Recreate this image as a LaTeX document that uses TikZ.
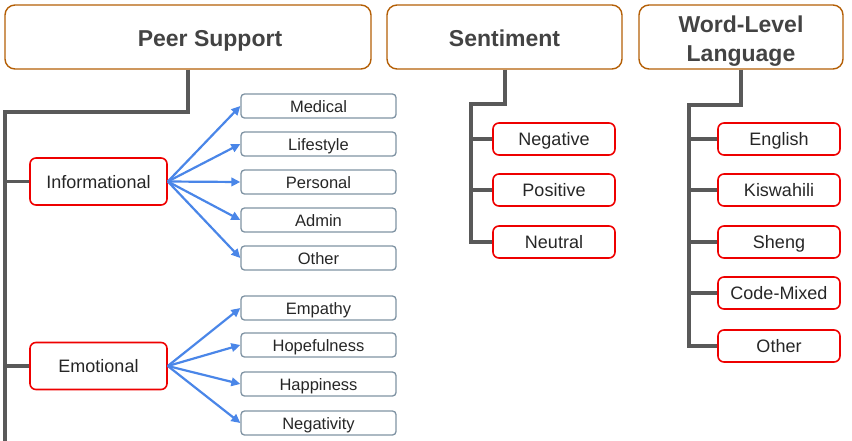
\documentclass[tikz,border=0pt]{standalone}
\usepackage{fontspec}
\setmainfont{Liberation Sans}
\usetikzlibrary{arrows.meta}
\definecolor{headbrown}{HTML}{B45F06}
\definecolor{headtext}{HTML}{434343}
\definecolor{stemgray}{HTML}{595959}
\definecolor{subgray}{HTML}{7F93A3}
\definecolor{arrowblue}{HTML}{4A86E8}
\definecolor{boxred}{HTML}{EE0000}
\tikzset{
  head/.style={draw=headbrown, line width=1.4pt, rounded corners=10pt, inner sep=0pt,
    minimum height=64pt, text height=20.8pt, text depth=2.8pt, text=headtext,
    font=\fontsize{23}{28}\selectfont\bfseries},
  headlabel/.style={inner sep=0pt, align=center, text=headtext,
    font=\fontsize{23}{28.5}\selectfont\bfseries},
  catbox/.style={draw=boxred, line width=1.6pt, rounded corners=6pt, inner sep=0pt,
    minimum width=137pt, minimum height=47pt, text height=16.3pt, text depth=2.5pt,
    text=black!85, font=\fontsize{18}{20}\selectfont},
  valbox/.style={catbox, minimum width=122pt, minimum height=32pt},
  subbox/.style={draw=subgray, line width=1.3pt, rounded corners=3.5pt, inner sep=0pt,
    minimum width=155pt, minimum height=24pt, text height=15pt, text depth=1.6pt,
    text=black!85, font=\fontsize{16.5}{18}\selectfont},
  stem/.style={draw=stemgray, line width=4pt},
  twig/.style={draw=stemgray, line width=3.5pt},
  infarrow/.style={draw=arrowblue, line width=2.2pt, -{Triangle[length=9pt,width=8.5pt]}}
}
\begin{document}
\begin{tikzpicture}[x=1pt,y=-1pt]
  \useasboundingbox (0,0) rectangle (852,440);
  % headers
  \node[head, minimum width=366pt] (ps) at (188,37) {\hspace*{44pt}Peer Support};
  \node[head, minimum width=235pt] (sent) at (504.5,37) {Sentiment};
  \node[head, minimum width=204pt] (wll) at (741,37) {};
  \node[headlabel] (wlltext) at (741,41) {Word-Level\\Language};

  % peer support
  \node[catbox] (info) at (98.5,181.5) {Informational};
  \node[catbox] (emo) at (98.5,366) {Emotional};
  \foreach \name/\txt/\y in {med/Medical/106, life/Lifestyle/144, pers/Personal/182,
      adm/Admin/220, iother/Other/258}{
    \node[subbox] (\name) at (318.5,\y) {\txt};
    \draw[infarrow] (info.east) -- (\name.west);
  }
  \foreach \name/\txt/\y in {emp/Empathy/308, hope/Hopefulness/345, happy/Happiness/384,
      negy/Negativity/423}{
    \node[subbox] (\name) at (318.5,\y) {\txt};
    \draw[infarrow] (emo.east) -- (\name.west);
  }
  \coordinate (psend) at (5,442);
  \draw[stem] (ps.south) |- (5,112) -- (psend);
  \draw[twig] (info.west) -- (info.west -| psend);
  \draw[twig] (emo.west) -- (emo.west -| psend);

  % sentiment
  \foreach \name/\txt/\y in {neg/Negative/139, pos/Positive/190, neu/Neutral/242}{
    \node[valbox] (\name) at (554,\y) {\txt};
  }
  \draw[stem] (sent.south) |- (471,104) |- (neu.west);
  \draw[twig] (neg.west) -- ++(-22,0);
  \draw[twig] (pos.west) -- ++(-22,0);

  % word-level language
  \foreach \name/\txt/\y in {eng/English/139, kis/Kiswahili/190, she/Sheng/242,
      cm/Code-Mixed/293, wother/Other/346}{
    \node[valbox] (\name) at (779,\y) {\txt};
  }
  \draw[stem] (wll.south) |- (689,105) |- (wother.west);
  \foreach \name in {eng,kis,she,cm}
    \draw[twig] (\name.west) -- ++(-29,0);
\end{tikzpicture}
\end{document}
